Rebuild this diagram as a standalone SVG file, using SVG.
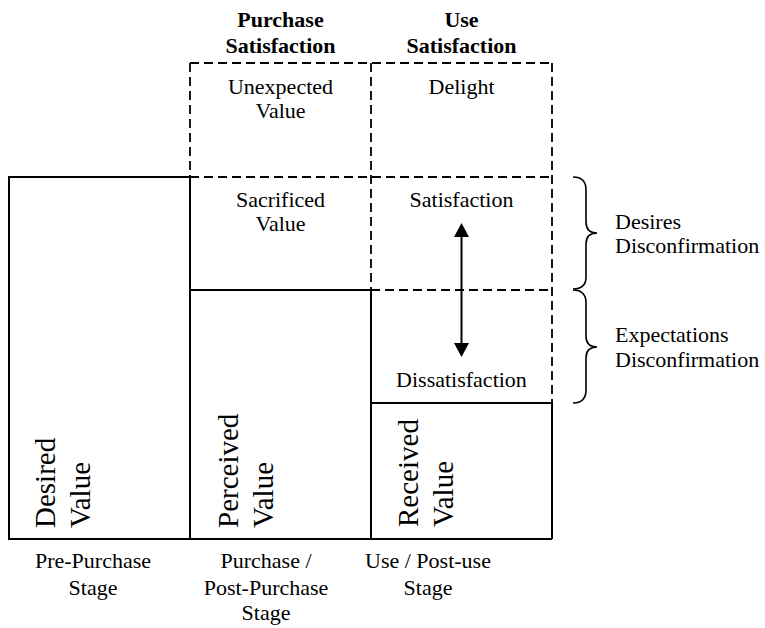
<svg xmlns="http://www.w3.org/2000/svg" width="765" height="628" viewBox="0 0 765 628">
  <style>
    text { font-family: "Liberation Serif", "Times New Roman", serif; font-size: 22px; fill: #000; }
    .hdr { font-weight: bold; text-anchor: middle; }
    .mid { text-anchor: middle; }
    .big { font-size: 29px; }
    .solid { stroke: #000; stroke-width: 2; fill: none; }
    .dash { stroke: #000; stroke-width: 1.8; fill: none; stroke-dasharray: 9 5; }
    .brace { stroke: #000; stroke-width: 1.6; fill: none; }
  </style>
  <defs>
    <marker id="head" viewBox="0 0 14 15" refX="0" refY="7.5" markerWidth="14" markerHeight="15" markerUnits="userSpaceOnUse" orient="auto-start-reverse">
      <path d="M0,0 L14,7.5 L0,15 z" fill="#000"/>
    </marker>
  </defs>
  <rect width="765" height="628" fill="#fff"/>

  <!-- column headings -->
  <g id="purchase-satisfaction">
    <text class="hdr" x="280.5" y="27">Purchase</text>
    <text class="hdr" x="280.5" y="53">Satisfaction</text>
  </g>
  <g id="use-satisfaction">
    <text class="hdr" x="461.5" y="27">Use</text>
    <text class="hdr" x="461.5" y="53">Satisfaction</text>
  </g>

  <!-- dashed expectation grid -->
  <g id="grid-dashed">
    <path class="dash" d="M190,63 H552 M190,63 V177 M371,63 V290 M552,63 V403 M190,177 H552 M371,290 H552"/>
  </g>

  <!-- solid value columns -->
  <g id="grid-solid">
    <path class="solid" d="M9,177 H190 V539 H9 Z M190,290 H371 V539 M371,403 H552 V539 M190,539 H552"/>
  </g>

  <g id="unexpected-value">
    <text class="mid" x="280.5" y="94">Unexpected</text>
    <text class="mid" x="280.5" y="118">Value</text>
  </g>
  <g id="delight">
    <text class="mid" x="461.5" y="94">Delight</text>
  </g>
  <g id="sacrificed-value">
    <text class="mid" x="280.5" y="207">Sacrificed</text>
    <text class="mid" x="280.5" y="231">Value</text>
  </g>
  <g id="satisfaction">
    <text class="mid" x="461.5" y="207">Satisfaction</text>
  </g>
  <g id="dissatisfaction">
    <text class="mid" x="461.5" y="387">Dissatisfaction</text>
  </g>

  <g id="desired-value">
    <text class="big" transform="translate(55,528) rotate(-90)">Desired</text>
    <text class="big" transform="translate(90,528) rotate(-90)">Value</text>
  </g>
  <g id="perceived-value">
    <text class="big" transform="translate(238,528) rotate(-90)">Perceived</text>
    <text class="big" transform="translate(273,528) rotate(-90)">Value</text>
  </g>
  <g id="received-value">
    <text class="big" transform="translate(418,527) rotate(-90)">Received</text>
    <text class="big" transform="translate(453,527) rotate(-90)">Value</text>
  </g>

  <!-- connectors: satisfaction range arrow and braces -->
  <g id="connectors">
    <line class="solid" x1="461.5" y1="237" x2="461.5" y2="343" marker-start="url(#head)" marker-end="url(#head)"/>
    <path class="brace" d="M573,177 Q586,177 586,190 L586,222 Q586,233 597,233 Q586,233 586,244 L586,277 Q586,289 573,289"/>
    <path class="brace" d="M573,290 Q586,290 586,303 L586,336 Q586,347 597,347 Q586,347 586,358 L586,390 Q586,403 573,403"/>
  </g>

  <g id="desires-disconfirmation">
    <text x="615" y="229">Desires</text>
    <text x="615" y="253">Disconfirmation</text>
  </g>
  <g id="expectations-disconfirmation">
    <text x="615" y="342">Expectations</text>
    <text x="615" y="367">Disconfirmation</text>
  </g>

  <!-- stage labels -->
  <g id="pre-purchase-stage">
    <text class="mid" x="93" y="568">Pre-Purchase</text>
    <text class="mid" x="93" y="595">Stage</text>
  </g>
  <g id="purchase-stage">
    <text class="mid" x="266" y="568">Purchase /</text>
    <text class="mid" x="266" y="595">Post-Purchase</text>
    <text class="mid" x="266" y="620">Stage</text>
  </g>
  <g id="use-stage">
    <text class="mid" x="428" y="568">Use / Post-use</text>
    <text class="mid" x="428" y="595">Stage</text>
  </g>
</svg>
